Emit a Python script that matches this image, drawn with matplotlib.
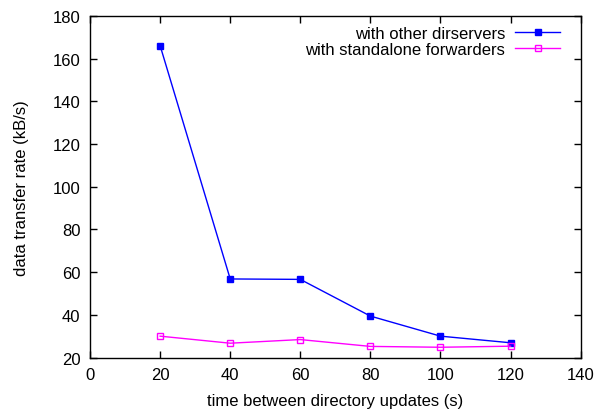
import matplotlib
matplotlib.use("Agg")
import matplotlib.pyplot as plt

# data
update_interval = [20, 40, 60, 80, 100, 120]
other_dirservers = [166.1, 56.8, 56.6, 39.4, 30.0, 26.9]
standalone_fwd = [30.0, 26.7, 28.4, 25.2, 24.8, 25.3]

plt.rcParams['font.family'] = ['Liberation Sans', 'DejaVu Sans']
plt.rcParams['font.size'] = 12

fig = plt.figure(figsize=(6.05, 4.10), dpi=100)
ax = fig.add_axes([0.1488, 0.1256, 0.811, 0.833])

ax.plot(update_interval, other_dirservers, color='#0000ff', lw=1, marker='s',
        ms=4.5, mfc='#0000ff', mec='#0000ff', label='with other dirservers')
ax.plot(update_interval, standalone_fwd, color='#ff00ff', lw=1, marker='s',
        ms=4.5, mfc='none', mec='#ff00ff', label='with standalone forwarders')

ax.set_xlim(0, 140)
ax.set_ylim(20, 180)
ax.set_xticks(range(0, 141, 20))
ax.set_yticks(range(20, 181, 20))
ax.tick_params(axis='x', direction='in', top=True, length=5, width=1, pad=7)
ax.tick_params(axis='y', direction='in', right=True, length=5, width=1, pad=7)
for s in ax.spines.values():
    s.set_linewidth(1)

ax.set_xlabel('time between directory updates (s)', va='center')
ax.set_ylabel('data transfer rate (kB/s)', va='center')
ax.xaxis.set_label_coords(0.5, -0.126)
ax.yaxis.set_label_coords(-0.14, 0.5)

ax.legend(loc='upper right', frameon=False, markerfirst=False, handlelength=2.7,
          bbox_to_anchor=(0.958, 0.970), borderaxespad=0, borderpad=0,
          labelspacing=0.02, handletextpad=0.6)

fig.savefig('out.png', dpi=100)
